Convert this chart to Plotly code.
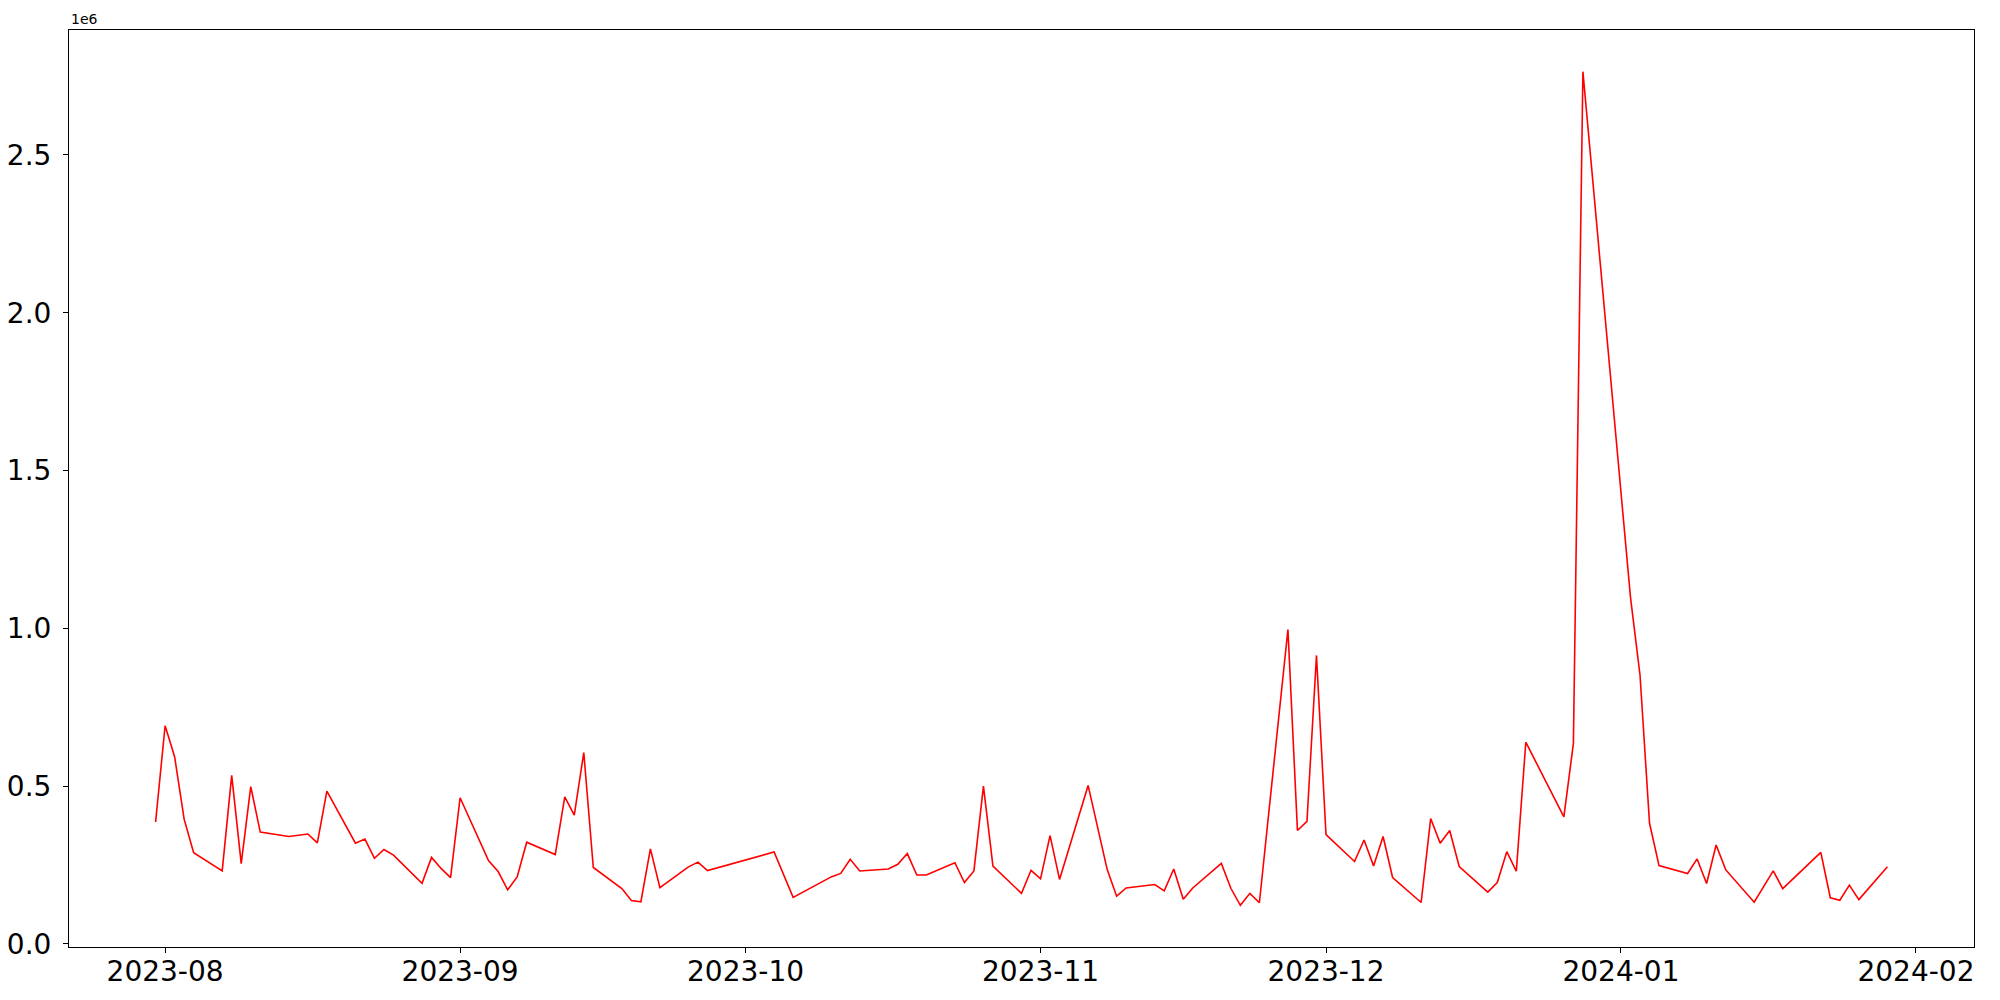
import plotly.graph_objects as go
import pandas as pd

dates = [
    "2023-07-31", "2023-08-01", "2023-08-02", "2023-08-03", "2023-08-04",
    "2023-08-07", "2023-08-08", "2023-08-09", "2023-08-10", "2023-08-11",
    "2023-08-14", "2023-08-16", "2023-08-17", "2023-08-18",
    "2023-08-21", "2023-08-22", "2023-08-23", "2023-08-24", "2023-08-25",
    "2023-08-28", "2023-08-29", "2023-08-30", "2023-08-31", "2023-09-01",
    "2023-09-04", "2023-09-05", "2023-09-06", "2023-09-07", "2023-09-08",
    "2023-09-11", "2023-09-12", "2023-09-13", "2023-09-14", "2023-09-15",
    "2023-09-18", "2023-09-19", "2023-09-20", "2023-09-21", "2023-09-22",
    "2023-09-25", "2023-09-26", "2023-09-27",
    "2023-10-04", "2023-10-06",
    "2023-10-10", "2023-10-11", "2023-10-12", "2023-10-13",
    "2023-10-16", "2023-10-17", "2023-10-18", "2023-10-19", "2023-10-20",
    "2023-10-23", "2023-10-24", "2023-10-25", "2023-10-26", "2023-10-27",
    "2023-10-30", "2023-10-31", "2023-11-01", "2023-11-02", "2023-11-03",
    "2023-11-06", "2023-11-08", "2023-11-09", "2023-11-10",
    "2023-11-13", "2023-11-14", "2023-11-15", "2023-11-16", "2023-11-17",
    "2023-11-20", "2023-11-21", "2023-11-22", "2023-11-23", "2023-11-24",
    "2023-11-27", "2023-11-28", "2023-11-29", "2023-11-30", "2023-12-01",
    "2023-12-04", "2023-12-05", "2023-12-06", "2023-12-07", "2023-12-08",
    "2023-12-11", "2023-12-12", "2023-12-13", "2023-12-14", "2023-12-15",
    "2023-12-18", "2023-12-19", "2023-12-20", "2023-12-21", "2023-12-22",
    "2023-12-26", "2023-12-27", "2023-12-28",
    "2024-01-02", "2024-01-03", "2024-01-04", "2024-01-05",
    "2024-01-08", "2024-01-09", "2024-01-10", "2024-01-11", "2024-01-12",
    "2024-01-15", "2024-01-17", "2024-01-18",
    "2024-01-22", "2024-01-23", "2024-01-24", "2024-01-25", "2024-01-26",
    "2024-01-29",
]

values = [
    386000, 691000, 593000, 395000, 289000,
    231000, 534000, 254000, 498000, 354000,
    340000, 348000, 320000, 484000,
    319000, 332000, 271000, 299000, 281000,
    192000, 274000, 239000, 210000, 463000,
    263000, 229000, 171000, 212000, 322000,
    283000, 466000, 408000, 606000, 242000,
    175000, 137000, 133000, 301000, 178000,
    244000, 259000, 232000,
    291000, 147000,
    212000, 223000, 268000, 231000,
    237000, 252000, 286000, 218000, 218000,
    257000, 194000, 231000, 500000, 246000,
    160000, 233000, 206000, 343000, 204000,
    502000, 236000, 151000, 177000,
    188000, 168000, 237000, 141000, 177000,
    255000, 176000, 122000, 160000, 130000,
    996000, 359000, 388000, 914000, 346000,
    261000, 329000, 247000, 340000, 210000,
    131000, 397000, 319000, 359000, 245000,
    164000, 194000, 292000, 230000, 639000,
    402000, 635000, 2764000,
    1098000, 852000, 382000, 248000,
    223000, 269000, 191000, 313000, 235000,
    132000, 231000, 175000,
    290000, 146000, 138000, 186000, 140000,
    244000,
]

x_tick_vals = ["2023-08-01", "2023-09-01", "2023-10-01", "2023-11-01",
               "2023-12-01", "2024-01-01", "2024-02-01"]
x_tick_text = ["2023-08", "2023-09", "2023-10", "2023-11",
               "2023-12", "2024-01", "2024-02"]
y_tick_vals = [0, 500000, 1000000, 1500000, 2000000, 2500000]
y_tick_text = ["0.0", "0.5", "1.0", "1.5", "2.0", "2.5"]

# matplotlib-like 5% margins
dt = pd.to_datetime(dates)
span = dt.max() - dt.min()
x_range = [dt.min() - 0.05 * span, dt.max() + 0.05 * span]
vmin, vmax = min(values), max(values)
vr = vmax - vmin
y_range = [vmin - 0.05 * vr, vmax + 0.05 * vr]

FONT = "DejaVu Sans, sans-serif"

fig = go.Figure()
fig.add_trace(go.Scatter(
    x=dates, y=values, mode="lines",
    line=dict(color="red", width=1.6),
    showlegend=False,
))

axis_common = dict(
    showline=True, linecolor="black", linewidth=1.1, mirror=True,
    ticks="outside", ticklen=5, tickwidth=1.1, tickcolor="black",
    showgrid=False, zeroline=False, automargin=False,
    tickfont=dict(family=FONT, size=28, color="black"),
)

# the page body has an 8px default margin, so the figure is sized to fit
fig.update_layout(
    width=1984, height=984, autosize=False,
    margin=dict(l=61, r=18, t=22, b=45, pad=0),
    paper_bgcolor="white", plot_bgcolor="white",
    font=dict(family=FONT, color="black"),
    xaxis=dict(
        type="date",
        range=[x_range[0].strftime("%Y-%m-%d %H:%M:%S"), x_range[1].strftime("%Y-%m-%d %H:%M:%S")],
        tickmode="array", tickvals=x_tick_vals, ticktext=x_tick_text,
        ticklabelstandoff=-6,
        **axis_common,
    ),
    yaxis=dict(
        range=y_range,
        tickmode="array", tickvals=y_tick_vals, ticktext=y_tick_text,
        ticklabelstandoff=6,
        **axis_common,
    ),
    annotations=[dict(
        text="1e6", xref="paper", yref="paper", x=0, y=1,
        xanchor="left", yanchor="bottom", showarrow=False, yshift=1,
        font=dict(family=FONT, size=14, color="black"),
    )],
)

fig.write_html("out.html")
